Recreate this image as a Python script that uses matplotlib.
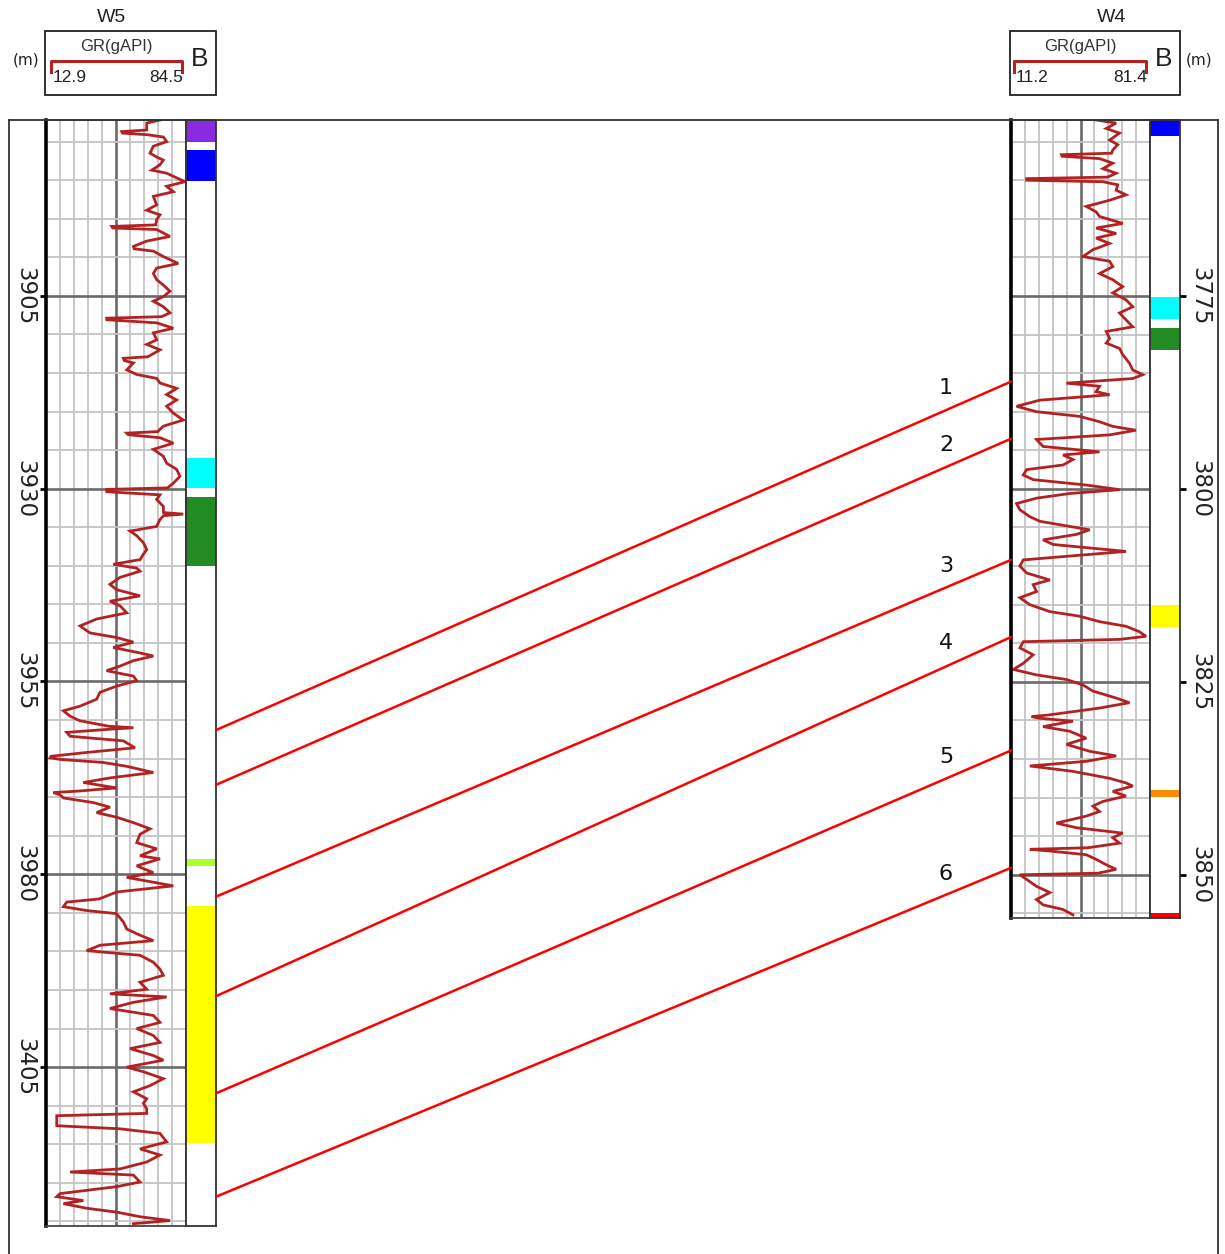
import matplotlib
matplotlib.use("Agg")
import numpy as np
import matplotlib.pyplot as plt
from matplotlib.patches import Rectangle, ConnectionPatch
from matplotlib.lines import Line2D
import matplotlib.transforms as mtransforms

# ---------------- data ----------------
w5_name = "W5"
w4_name = "W4"
w5_gr_range = (12.9, 84.5)
w4_gr_range = (11.2, 81.4)
w5_depth_range = (3882.2, 4025.6)
w4_depth_range = (3752.2, 3855.6)

w5_depth_ticks = [3905, 3930, 3955, 3980, 4005]
w5_depth_labels = ["3905", "3930", "3955", "3980", "3405"]
w4_depth_ticks = [3775, 3800, 3825, 3850]
w4_depth_labels = ["3775", "3800", "3825", "3850"]

w5_depth = [3882.2, 3882.6, 3883.5, 3883.7, 3883.9, 3884.1, 3884.4, 3885.0, 3885.6, 3886.5, 3887.0, 3887.4,
            3888.0, 3888.7, 3889.1, 3889.5, 3890.2, 3890.8, 3891.5, 3892.1, 3893.2, 3893.9, 3894.5, 3895.1,
            3895.8, 3896.0, 3896.2, 3896.4, 3897.3, 3897.9, 3898.6, 3898.9, 3899.2, 3899.9, 3900.8, 3901.4,
            3902.1, 3902.9, 3903.6, 3904.4, 3905.1, 3905.7, 3906.4, 3907.2, 3907.7, 3907.9, 3908.1, 3908.5,
            3909.2, 3909.8, 3910.7, 3911.3, 3912.0, 3912.9, 3913.1, 3913.4, 3913.7, 3914.6, 3915.2, 3915.7,
            3916.3, 3917.0, 3917.8, 3918.5, 3919.3, 3920.2, 3921.1, 3921.9, 3922.6, 3922.8, 3923.0, 3923.4,
            3924.1, 3924.9, 3925.8, 3926.7, 3927.5, 3928.4, 3929.3, 3929.9, 3930.1, 3930.4, 3930.8,
            3931.4, 3932.3, 3933.1, 3933.3, 3933.5, 3934.0, 3934.9, 3935.5, 3936.1, 3937.0, 3937.9, 3938.5,
            3939.2, 3939.8, 3940.3, 3940.7, 3941.5, 3942.4, 3943.1, 3943.9, 3944.6, 3945.2, 3946.1, 3946.9,
            3947.8, 3948.7, 3949.3, 3949.9, 3950.6, 3951.3, 3951.7, 3952.3, 3953.0, 3953.6, 3954.3, 3954.9,
            3955.6, 3956.4, 3957.3, 3958.2, 3958.8, 3959.5, 3960.1, 3960.8, 3961.0, 3961.2, 3961.6, 3962.1,
            3962.7, 3963.6, 3964.2, 3964.7, 3964.9, 3965.1, 3965.5, 3966.0, 3966.8, 3967.5, 3968.1, 3968.8,
            3969.2, 3969.4, 3969.7, 3970.1, 3970.7, 3971.3, 3972.0, 3972.6, 3973.3, 3974.1, 3974.8, 3975.9,
            3976.7, 3977.6, 3978.0, 3978.9, 3979.8, 3980.4,
            3981.5, 3982.3, 3983.2, 3983.6, 3984.2, 3984.7, 3985.1, 3986.2, 3987.1, 3987.9, 3988.6, 3989.2,
            3989.9, 3990.5, 3991.4, 3992.3, 3993.1, 3994.0, 3994.9, 3995.5, 3995.9, 3996.6, 3997.4, 3998.3,
            3999.2, 4000.0, 4000.9, 4001.8, 4002.6, 4003.5, 4004.1, 4005.0, 4005.6, 4006.5, 4007.4, 4008.2,
            4009.1, 4009.7, 4010.4, 4011.0, 4011.3, 4012.6, 4013.0, 4013.6, 4014.7, 4015.6, 4016.4, 4017.3,
            4018.2, 4018.6, 4019.0, 4019.9, 4020.5, 4021.4, 4021.8, 4022.3, 4022.7, 4023.3, 4023.8, 4024.4,
            4024.9, 4025.3]
w5_gr = [71.2, 64.4, 64.4, 51.6, 52.0, 64.4, 72.9, 74.6, 67.8, 66.1, 69.5, 72.9,
         71.2, 67.0, 74.6, 78.0, 84.0, 74.6, 78.0, 67.8, 69.5, 64.4, 71.2, 69.5,
         69.0, 46.5, 47.0, 69.5, 76.3, 64.4, 57.6, 58.0, 67.8, 72.9, 80.5, 69.5,
         67.8, 69.5, 72.9, 76.3, 72.9, 67.8, 72.9, 76.3, 72.0, 43.9, 44.0, 69.5,
         78.0, 67.8, 69.5, 64.4, 71.2, 65.0, 52.5, 53.0, 57.6, 54.2, 59.3, 69.5,
         71.2, 79.7, 74.6, 79.7, 74.6, 78.0, 83.1, 72.9, 70.0, 54.2, 55.0, 71.2,
         78.0, 67.8, 72.9, 74.6, 79.7, 81.4, 78.0, 75.0, 43.9, 44.0, 71.2,
         69.5, 72.9, 73.0, 83.1, 73.0, 71.2, 69.5, 55.9, 59.3, 62.7, 64.4, 62.7,
         61.0, 47.3, 59.3, 61.0, 50.8, 45.6, 49.0, 61.0, 45.6, 50.8, 54.2, 38.8,
         30.3, 35.4, 49.0, 57.6, 47.3, 61.0, 67.8, 57.6, 50.8, 43.9, 57.6, 59.3,
         49.0, 40.5, 38.8, 30.3, 21.8, 25.2, 30.3, 45.0, 57.6, 45.0, 23.5, 25.2,
         52.5, 58.4, 33.7, 15.5, 15.0, 20.0, 42.2, 54.2, 67.8, 45.6, 32.0, 49.0,
         30.0, 16.7, 20.0, 21.8, 37.1, 45.6, 38.8, 49.0, 57.6, 66.1, 61.0, 59.3,
         69.5, 61.0, 71.2, 59.3, 67.8, 54.2,
         78.0, 49.0, 40.0, 23.5, 21.8, 33.7, 49.0, 52.5, 54.2, 61.0, 67.8, 40.5,
         33.7, 61.0, 67.8, 71.2, 72.9, 61.0, 64.4, 45.6, 74.6, 57.6, 45.6, 67.8,
         71.2, 59.3, 67.8, 71.2, 55.9, 67.8, 72.9, 54.2, 62.7, 72.9, 66.1, 57.6,
         64.4, 62.7, 64.4, 64.4, 18.4, 18.4, 50.8, 71.2, 74.6, 61.0, 71.2, 64.4,
         50.8, 25.2, 57.6, 61.0, 49.0, 20.1, 18.4, 32.0, 21.8, 33.7, 49.0, 61.0,
         76.3, 57.6]

w4_depth = [3752.2, 3752.6, 3753.3, 3753.9, 3754.8, 3755.4, 3756.1, 3756.5, 3756.7, 3756.9, 3757.2, 3757.8,
            3758.5, 3759.1, 3759.6, 3759.8, 3760.0, 3760.2, 3760.6, 3761.3, 3761.9, 3762.6, 3763.4, 3764.1,
            3764.7, 3765.6, 3766.2, 3766.9, 3767.5, 3768.2, 3769.0, 3769.9, 3770.5, 3771.2, 3772.1, 3772.9,
            3773.8, 3774.6, 3775.5, 3776.4, 3777.2, 3778.1, 3779.0, 3779.6, 3780.5, 3781.1, 3781.8, 3782.6,
            3783.7, 3784.6, 3785.2, 3785.7, 3786.3, 3786.7, 3787.4, 3787.8, 3788.5, 3789.3, 3790.0, 3790.6,
            3791.3, 3791.9, 3792.4, 3793.0, 3793.6, 3794.5, 3795.2, 3795.6, 3796.2, 3796.9, 3797.5, 3798.2,
            3798.8, 3799.5, 3800.1, 3800.6, 3801.2, 3801.9, 3802.7, 3803.6, 3804.2, 3805.3, 3805.9, 3806.6,
            3807.2, 3808.1, 3808.7, 3809.2, 3810.0, 3810.9, 3811.8, 3812.4, 3813.3, 3814.1, 3815.0, 3815.9,
            3816.5, 3817.2, 3817.8, 3818.5, 3819.1, 3819.5, 3819.8, 3820.6, 3821.5, 3822.6, 3823.4, 3824.1,
            3824.7, 3825.4, 3826.2, 3827.1, 3827.7, 3828.4, 3829.3, 3829.5, 3829.7, 3830.1, 3830.8, 3831.4,
            3832.3, 3833.1, 3834.0, 3834.6, 3835.3, 3835.9, 3836.6, 3837.5, 3838.1, 3838.5, 3839.2, 3839.8,
            3840.5, 3841.1, 3841.8, 3842.4, 3843.3, 3843.9, 3844.6, 3845.2, 3845.9, 3846.5, 3846.7, 3846.9,
            3847.4, 3848.0, 3848.7, 3849.3, 3849.8, 3850.0, 3850.6, 3851.5, 3852.3, 3853.2, 3853.9, 3854.5,
            3855.2]
w4_gr = [54.2, 64.3, 59.3, 66.0, 61.0, 65.1, 62.6, 62.0, 36.7, 37.0, 55.9, 62.6,
         57.6, 64.3, 60.0, 19.1, 19.1, 57.6, 65.1, 64.3, 69.3, 61.0, 49.2, 54.2,
         55.9, 67.6, 54.2, 64.3, 54.2, 61.0, 52.6, 47.5, 61.0, 62.6, 55.9, 62.6,
         67.6, 62.6, 69.3, 72.7, 66.0, 69.3, 72.7, 59.3, 61.0, 59.3, 66.0, 67.6,
         71.0, 72.7, 77.7, 72.7, 39.2, 55.9, 54.2, 61.0, 25.8, 14.0, 24.1, 45.9,
         55.9, 62.6, 74.3, 61.0, 24.1, 27.4, 55.9, 37.5, 42.5, 37.5, 19.1, 17.4,
         22.4, 49.2, 66.0, 40.8, 24.1, 14.0, 15.7, 20.7, 25.8, 50.9, 44.2, 27.4,
         32.5, 69.3, 40.8, 17.4, 15.7, 19.1, 30.8, 22.4, 24.1, 15.7, 20.7, 30.8,
         45.9, 55.9, 69.3, 76.0, 79.4, 66.0, 17.4, 15.7, 22.4, 17.4, 12.4, 24.1,
         39.2, 47.5, 52.6, 64.3, 71.0, 55.9, 30.0, 21.6, 25.0, 42.5, 27.4, 40.8,
         49.2, 39.2, 50.9, 64.3, 49.2, 20.7, 42.5, 61.0, 69.3, 72.7, 62.6, 69.3,
         57.6, 52.6, 55.9, 49.2, 34.1, 44.2, 67.6, 62.6, 66.0, 50.0, 20.7, 30.0,
         49.2, 54.2, 59.3, 64.3, 55.0, 15.7, 19.1, 24.1, 30.8, 24.1, 27.4, 37.5,
         42.5]

w5_lith_top = [3882.2, 3886.1, 3926.0, 3931.1, 3978.0, 3984.1]
w5_lith_base = [3885.0, 3890.1, 3929.9, 3940.0, 3978.9, 4014.9]
w5_lith_color = ["#8a2be2", "#0000ff", "#00ffff", "#228b22", "#adff2f", "#ffff00"]
w4_lith_top = [3752.2, 3775.1, 3779.2, 3815.0, 3839.0, 3854.9]
w4_lith_base = [3754.3, 3778.0, 3782.0, 3817.9, 3839.9, 3855.6]
w4_lith_color = ["#0000ff", "#00ffff", "#228b22", "#ffff00", "#ff8c00", "#ff0000"]

corr_labels = ["1", "2", "3", "4", "5", "6"]
corr_w5_depth = [3961.3, 3968.4, 3982.9, 3995.8, 4008.4, 4021.8]
corr_w4_depth = [3786.1, 3793.5, 3809.2, 3819.2, 3833.9, 3849.1]

# ---------------- layout helpers ----------------
W, H = 1225, 1254
fig = plt.figure(figsize=(W / 100, H / 100), dpi=100)
fig.patch.set_facecolor("white")


def box(x0, y0, x1, y1):
    return [x0 / W, 1 - y1 / H, (x1 - x0) / W, (y1 - y0) / H]


def fx(x):
    return x / W


def fy(y):
    return 1 - y / H


GR_COLOR = "#b22222"
HEAD_FONT = "Liberation Sans"


def setup_gr(ax, lo, hi, dtop, dbot, major):
    ax.set_xlim(lo, hi)
    ax.set_ylim(dbot, dtop)
    step = (hi - lo) / 10.0
    ax.set_xticks([lo + 5 * step])
    ax.set_xticks([lo + k * step for k in range(1, 10) if k != 5], minor=True)
    ax.set_yticks(major)
    minor = [d for d in np.arange(np.ceil(dtop / 5.0) * 5, dbot, 5) if d not in major]
    ax.set_yticks(minor, minor=True)
    ax.grid(which="minor", color="#c4c4c4", lw=1.3)
    ax.grid(which="major", color="#6a6a6a", lw=1.9)
    ax.set_axisbelow(True)
    ax.tick_params(which="both", length=0, labelbottom=False, labelleft=False)
    for s in ("top", "bottom", "right"):
        ax.spines[s].set_color("#444444")
        ax.spines[s].set_linewidth(1.3)
    ax.spines["left"].set_color("black")
    ax.spines["left"].set_linewidth(2.6)


def setup_lith(ax, dtop, dbot, tops, bases, colors):
    ax.set_xlim(0, 1)
    ax.set_ylim(dbot, dtop)
    for t, b, c in zip(tops, bases, colors):
        ax.bar(0.5, b - t, bottom=t, width=1.0, color=c, linewidth=0)
    ax.set_xticks([])
    ax.set_yticks([])
    for s in ax.spines.values():
        s.set_color("#333333")
        s.set_linewidth(1.3)


def setup_depth(ax, dtop, dbot, ticks, labels, side, xlab):
    ax.set_xlim(0, 1)
    ax.set_ylim(dbot, dtop)
    ax.set_xticks([])
    for s in ax.spines.values():
        s.set_visible(False)
    ax.set_yticks(ticks)
    if side == "right":
        ax.yaxis.set_ticks_position("right")
    else:
        ax.yaxis.set_ticks_position("left")
    ax.tick_params(axis="y", direction="in", length=4, width=2, color="black",
                   labelleft=False, labelright=False)
    tr = mtransforms.blended_transform_factory(ax.transAxes, ax.transData)
    for t, lab in zip(ticks, labels):
        ax.text(xlab, t, lab, transform=tr, rotation=-90, ha="center", va="center",
                fontsize=16.5, color="#222222", family="DejaVu Sans")
    ax.patch.set_alpha(0)


# ---------------- W5 ----------------
ax5_depth = fig.add_axes(box(9, 120, 46, 1226))
ax5_gr = fig.add_axes(box(46, 120, 186, 1226))
ax5_lith = fig.add_axes(box(186, 120, 216, 1226))
setup_gr(ax5_gr, w5_gr_range[0], w5_gr_range[1], w5_depth_range[0], w5_depth_range[1], w5_depth_ticks)
ax5_gr.plot(w5_gr, w5_depth, color=GR_COLOR, lw=2.0, solid_joinstyle="miter")
setup_lith(ax5_lith, w5_depth_range[0], w5_depth_range[1], w5_lith_top, w5_lith_base, w5_lith_color)
setup_depth(ax5_depth, w5_depth_range[0], w5_depth_range[1], w5_depth_ticks, w5_depth_labels, "right", 0.43)

# ---------------- W4 ----------------
ax4_gr = fig.add_axes(box(1011, 120, 1150, 918))
ax4_lith = fig.add_axes(box(1150, 120, 1180, 918))
ax4_depth = fig.add_axes(box(1180, 120, 1218, 918))
setup_gr(ax4_gr, w4_gr_range[0], w4_gr_range[1], w4_depth_range[0], w4_depth_range[1], w4_depth_ticks)
ax4_gr.plot(w4_gr, w4_depth, color=GR_COLOR, lw=2.0, solid_joinstyle="miter")
setup_lith(ax4_lith, w4_depth_range[0], w4_depth_range[1], w4_lith_top, w4_lith_base, w4_lith_color)
setup_depth(ax4_depth, w4_depth_range[0], w4_depth_range[1], w4_depth_ticks, w4_depth_labels, "left", 0.53)

# ---------------- outer frame ----------------
for xs, ys in (([9, 9], [120, 1254]), ([9, 1218], [120, 120]), ([1218, 1218], [120, 1254])):
    fig.add_artist(Line2D([fx(v) for v in xs], [fy(v) for v in ys], transform=fig.transFigure,
                          color="#333333", lw=1.3))

# ---------------- correlation lines ----------------
for lab, d5, d4 in zip(corr_labels, corr_w5_depth, corr_w4_depth):
    cp = ConnectionPatch(xyA=(1.0, d5), coordsA=ax5_lith.transData,
                         xyB=(w4_gr_range[0], d4), coordsB=ax4_gr.transData,
                         color="#ff0000", lw=1.8, zorder=5)
    fig.add_artist(cp)
    ax4_gr.annotate(lab, xy=(w4_gr_range[0], d4), xycoords="data", xytext=(-65, -6),
                    textcoords="offset pixels", ha="center", va="center", fontsize=16,
                    color="#111111", family="DejaVu Sans", annotation_clip=False)

# ---------------- headers ----------------
def header(name, bx0, bx1, lo, hi, name_x, gr_x, br0, br1, b_x, m_x):
    fig.add_artist(Rectangle((fx(bx0), fy(95)), (bx1 - bx0) / W, (95 - 31) / H,
                             transform=fig.transFigure, fill=False, ec="#222222", lw=1.3))
    fig.text(fx(name_x), fy(17), name, ha="center", va="center", fontsize=14,
             family=HEAD_FONT, color="#222222")
    fig.text(fx(gr_x), fy(47), "GR(gAPI)", ha="center", va="center", fontsize=12,
             family=HEAD_FONT, color="#333333")
    fig.add_artist(Line2D([fx(br0), fx(br0), fx(br1), fx(br1)], [fy(72), fy(61), fy(61), fy(72)],
                          transform=fig.transFigure, color=GR_COLOR, lw=2.2))
    fig.text(fx(br0 + 2), fy(78), f"{lo}", ha="left", va="center", fontsize=12.5,
             family=HEAD_FONT, color="#222222")
    fig.text(fx(br1 + 1), fy(78), f"{hi}", ha="right", va="center", fontsize=12.5,
             family=HEAD_FONT, color="#222222")
    fig.text(fx(b_x), fy(59), "B", ha="center", va="center", fontsize=19,
             family=HEAD_FONT, color="#222222")
    fig.text(fx(m_x), fy(60), "(m)", ha="center", va="center", fontsize=11,
             family="DejaVu Sans", color="#222222")


header(w5_name, 45, 216, w5_gr_range[0], w5_gr_range[1], 112, 116, 51, 182, 200, 26)
header(w4_name, 1010, 1180, w4_gr_range[0], w4_gr_range[1], 1112, 1080, 1014, 1146, 1164, 1199)

fig.savefig("out.png", dpi=100, facecolor="white")
